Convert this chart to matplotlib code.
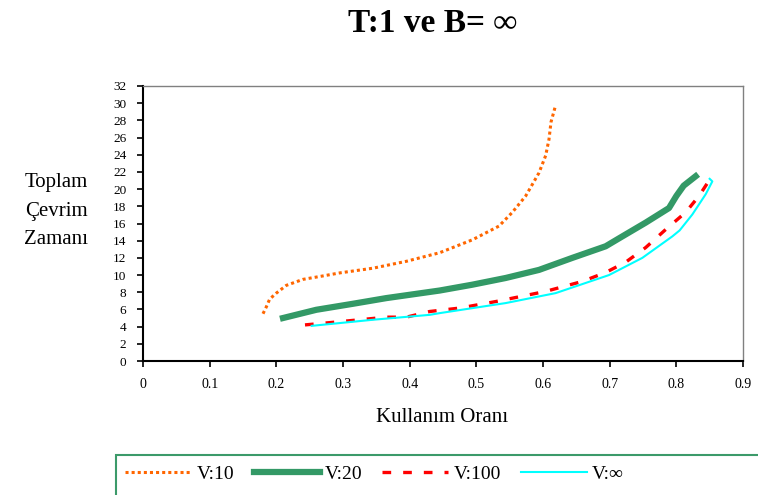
import matplotlib
matplotlib.use('Agg')
import matplotlib.pyplot as plt
from matplotlib.patches import Rectangle

plt.rcParams['font.family'] = ['Liberation Serif', 'DejaVu Serif']

# Data (x = Kullanım Oranı, y = Toplam Çevrim Zamanı)
v10_x = [0.180, 0.185, 0.190, 0.200, 0.215, 0.240, 0.270, 0.295, 0.345, 0.395, 0.445,
         0.494, 0.534, 0.554, 0.574, 0.594, 0.604, 0.609, 0.612, 0.618]
v10_y = [5.5, 6.3, 7.2, 7.9, 8.8, 9.5, 9.9, 10.25, 10.8, 11.6, 12.6,
         14.1, 15.7, 17.3, 19.2, 21.9, 23.9, 25.8, 27.8, 29.5]

v20_x = [0.210, 0.260, 0.315, 0.365, 0.445, 0.494, 0.544, 0.594, 0.644, 0.694,
         0.719, 0.754, 0.789, 0.800, 0.811, 0.829]
v20_y = [5.0, 5.96, 6.66, 7.32, 8.2, 8.88, 9.66, 10.6, 12.0, 13.35,
         14.5, 16.1, 17.8, 19.2, 20.4, 21.5]

v100_x = [0.243, 0.285, 0.325, 0.365, 0.395, 0.430, 0.475, 0.530, 0.604, 0.659,
          0.694, 0.724, 0.754, 0.784, 0.814, 0.834, 0.850]
v100_y = [4.2, 4.5, 4.8, 5.1, 5.1, 5.76, 6.16, 6.93, 8.1, 9.26,
          10.3, 11.5, 13.2, 15.3, 17.3, 19.2, 21.1]

vinf_x = [0.253, 0.345, 0.430, 0.445, 0.544, 0.619, 0.699, 0.749, 0.794, 0.805,
          0.824, 0.844, 0.854, 0.850]
vinf_y = [4.09, 4.8, 5.37, 5.57, 6.74, 7.9, 10.0, 12.0, 14.5, 15.2,
          17.05, 19.4, 20.9, 21.2]

x_ticks = [0, 0.1, 0.2, 0.3, 0.4, 0.5, 0.6, 0.7, 0.8, 0.9]
x_tick_labels = ['0', '0.1', '0.2', '0.3', '0.4', '0.5', '0.6', '0.7', '0.8', '0.9']
y_ticks = list(range(0, 33, 2))

fig = plt.figure(figsize=(7.58, 4.95), dpi=100)
ax = fig.add_axes([143 / 758, 1 - 361 / 495, 600 / 758, 275 / 495])

ax.plot(v10_x, v10_y, color='#FF6600', lw=2.2, linestyle=(0, (1, 1)), label='V:10')
ax.plot(v20_x, v20_y, color='#339966', lw=4.5, label='V:20')
ax.plot(v100_x, v100_y, color='#FF0000', lw=2.4, linestyle=(0, (2.6, 3.6)), label='V:100')
ax.plot(vinf_x, vinf_y, color='#00FFFF', lw=1.5, label='V:∞')

ax.set_xlim(0, 0.9)
ax.set_ylim(0, 32)
ax.set_xticks(x_ticks)
ax.set_xticklabels(x_tick_labels, fontsize=10)
ax.set_yticks(y_ticks)
ax.tick_params(axis='y', labelsize=9.5, direction='out', length=4, width=1.2, pad=8)
ax.tick_params(axis='x', direction='out', length=4, width=1.2, pad=8)

for side in ['left', 'bottom']:
    ax.spines[side].set_linewidth(1.5)
    ax.spines[side].set_color('black')
for side in ['top', 'right']:
    ax.spines[side].set_linewidth(1.0)
    ax.spines[side].set_color('#808080')

fig.text(433 / 758, 1 - 23 / 495, 'T:1 ve B= ∞', ha='center', va='center', fontsize=24, fontweight='bold')
fig.text(442 / 758, 1 - 417 / 495, 'Kullanım Oranı', ha='center', va='center', fontsize=15)
fig.text(56 / 758, 1 - 211 / 495, 'Toplam\nÇevrim\nZamanı', ha='center', va='center',
         multialignment='center', fontsize=15, linespacing=1.65)

# legend box runs off the right and bottom edges in the reference
fig.patches.append(Rectangle((116 / 758, -0.05), 0.9, (495 - 455) / 495 + 0.05,
                             transform=fig.transFigure, facecolor='none',
                             edgecolor='#3C9A6A', lw=1.5, clip_on=False))
fig.legend(loc='center left', bbox_to_anchor=(125 / 758, 0.042), ncol=4, frameon=False,
           fontsize=14, handlelength=3.4, handletextpad=0.28, columnspacing=1.0,
           borderpad=0, borderaxespad=0)

fig.savefig('out.png', dpi=100)
